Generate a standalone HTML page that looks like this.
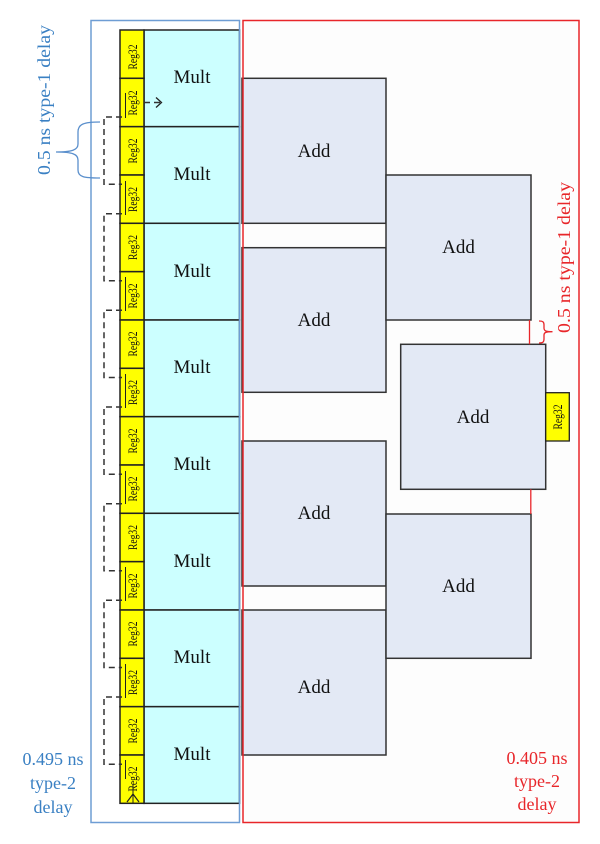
<!DOCTYPE html>
<html><head><meta charset="utf-8"><style>
html,body{margin:0;padding:0;background:#fff;}
svg{display:block;}
text{font-family:"Liberation Serif",serif;}
.r{font-size:12.5px;}
</style></head><body>
<svg width="600" height="844" viewBox="0 0 600 844" xmlns="http://www.w3.org/2000/svg">
<rect x="0" y="0" width="600" height="844" fill="#ffffff"/>
<rect x="243" y="20.5" width="336" height="802" fill="#fdfdfd"/>

<!-- Add boxes -->
<g fill="#e3e9f5" stroke="#333" stroke-width="1.5">
<rect x="242" y="78.3" width="144" height="145"/>
<rect x="242" y="247.7" width="144" height="144.6"/>
<rect x="242" y="441" width="144" height="145"/>
<rect x="242" y="610" width="144" height="145"/>
<rect x="386" y="175" width="145" height="145"/>
<rect x="386" y="514" width="145" height="144.3"/>
<rect x="400.7" y="344.3" width="145" height="145"/>
</g>
<g font-size="19" fill="#111" text-anchor="middle">
<text x="314" y="157">Add</text>
<text x="314" y="326">Add</text>
<text x="314" y="519">Add</text>
<text x="314" y="693">Add</text>
<text x="458.5" y="253">Add</text>
<text x="458.5" y="592">Add</text>
<text x="473" y="423">Add</text>
</g>

<!-- right reg32 -->
<rect x="545.7" y="392.7" width="23.6" height="48.3" fill="#ffff00" stroke="#222" stroke-width="1.3"/>
<text class="r" transform="translate(562,417) rotate(-90)" text-anchor="middle" fill="#111" textLength="25" lengthAdjust="spacingAndGlyphs">Reg32</text>

<!-- red connectors -->
<g stroke="#e8262a" stroke-width="1.3" fill="none">
<line x1="529.5" y1="320" x2="529.5" y2="344.3"/>
<line x1="530.8" y1="489.3" x2="530.8" y2="514"/>
<path d="M539,321 C543,321 544,322 544,325 L544,328 C544,331 546,331.7 552.5,331.7 C546,331.7 544,332.5 544,335 L544,339 C544,342 543,343 539,343"/>
</g>

<!-- red box -->
<rect x="243" y="20.5" width="336" height="802" fill="none" stroke="#e8262a" stroke-width="1.5"/>

<!-- Mult and reg column -->
<g stroke="#222" stroke-width="1.5">
<rect x="144" y="30" width="95.5" height="96.67" fill="#ccffff"/>
<rect x="144" y="126.67" width="95.5" height="96.67" fill="#ccffff"/>
<rect x="144" y="223.33" width="95.5" height="96.67" fill="#ccffff"/>
<rect x="144" y="320" width="95.5" height="96.67" fill="#ccffff"/>
<rect x="144" y="416.67" width="95.5" height="96.67" fill="#ccffff"/>
<rect x="144" y="513.33" width="95.5" height="96.67" fill="#ccffff"/>
<rect x="144" y="610" width="95.5" height="96.67" fill="#ccffff"/>
<rect x="144" y="706.67" width="95.5" height="96.67" fill="#ccffff"/>
</g>
<g stroke="#222" stroke-width="1.5" fill="#ffff00">
<rect x="120" y="30" width="24" height="48.33"/>
<rect x="120" y="78.33" width="24" height="48.33"/>
<rect x="120" y="126.67" width="24" height="48.33"/>
<rect x="120" y="175" width="24" height="48.33"/>
<rect x="120" y="223.33" width="24" height="48.33"/>
<rect x="120" y="271.67" width="24" height="48.33"/>
<rect x="120" y="320" width="24" height="48.33"/>
<rect x="120" y="368.33" width="24" height="48.33"/>
<rect x="120" y="416.67" width="24" height="48.33"/>
<rect x="120" y="465" width="24" height="48.33"/>
<rect x="120" y="513.33" width="24" height="48.33"/>
<rect x="120" y="561.67" width="24" height="48.33"/>
<rect x="120" y="610" width="24" height="48.33"/>
<rect x="120" y="658.33" width="24" height="48.33"/>
<rect x="120" y="706.67" width="24" height="48.33"/>
<rect x="120" y="755" width="24" height="48.33"/>
</g>
<g font-size="19" fill="#111" text-anchor="middle">
<text x="192" y="83">Mult</text>
<text x="192" y="180">Mult</text>
<text x="192" y="277">Mult</text>
<text x="192" y="373">Mult</text>
<text x="192" y="470">Mult</text>
<text x="192" y="567">Mult</text>
<text x="192" y="663">Mult</text>
<text x="192" y="760">Mult</text>
</g>
<g fill="#111" text-anchor="middle">
<text class="r" transform="translate(137,57) rotate(-90)" textLength="25" lengthAdjust="spacingAndGlyphs">Reg32</text>
<text class="r" transform="translate(137,103) rotate(-90)" textLength="25" lengthAdjust="spacingAndGlyphs">Reg32</text>
<text class="r" transform="translate(137,151) rotate(-90)" textLength="25" lengthAdjust="spacingAndGlyphs">Reg32</text>
<text class="r" transform="translate(137,199.5) rotate(-90)" textLength="25" lengthAdjust="spacingAndGlyphs">Reg32</text>
<text class="r" transform="translate(137,247.5) rotate(-90)" textLength="25" lengthAdjust="spacingAndGlyphs">Reg32</text>
<text class="r" transform="translate(137,296) rotate(-90)" textLength="25" lengthAdjust="spacingAndGlyphs">Reg32</text>
<text class="r" transform="translate(137,344) rotate(-90)" textLength="25" lengthAdjust="spacingAndGlyphs">Reg32</text>
<text class="r" transform="translate(137,392.5) rotate(-90)" textLength="25" lengthAdjust="spacingAndGlyphs">Reg32</text>
<text class="r" transform="translate(137,441) rotate(-90)" textLength="25" lengthAdjust="spacingAndGlyphs">Reg32</text>
<text class="r" transform="translate(137,489) rotate(-90)" textLength="25" lengthAdjust="spacingAndGlyphs">Reg32</text>
<text class="r" transform="translate(137,537.5) rotate(-90)" textLength="25" lengthAdjust="spacingAndGlyphs">Reg32</text>
<text class="r" transform="translate(137,586) rotate(-90)" textLength="25" lengthAdjust="spacingAndGlyphs">Reg32</text>
<text class="r" transform="translate(137,634) rotate(-90)" textLength="25" lengthAdjust="spacingAndGlyphs">Reg32</text>
<text class="r" transform="translate(137,682.5) rotate(-90)" textLength="25" lengthAdjust="spacingAndGlyphs">Reg32</text>
<text class="r" transform="translate(137,731) rotate(-90)" textLength="25" lengthAdjust="spacingAndGlyphs">Reg32</text>
<text class="r" transform="translate(137,779) rotate(-90)" textLength="25" lengthAdjust="spacingAndGlyphs">Reg32</text>
</g>

<!-- small internal ticks in lower regs -->
<g stroke="#222" stroke-width="1">
<line x1="125.5" y1="93" x2="125.5" y2="118"/>
<line x1="125.5" y1="181" x2="125.5" y2="200"/>
<line x1="125.5" y1="197" x2="125.5" y2="215"/>
<line x1="125.5" y1="277" x2="125.5" y2="296"/>
<line x1="125.5" y1="294" x2="125.5" y2="311"/>
<line x1="125.5" y1="374" x2="125.5" y2="393"/>
<line x1="125.5" y1="390" x2="125.5" y2="408"/>
<line x1="125.5" y1="471" x2="125.5" y2="490"/>
<line x1="125.5" y1="487" x2="125.5" y2="504"/>
<line x1="125.5" y1="567" x2="125.5" y2="586"/>
<line x1="125.5" y1="584" x2="125.5" y2="601"/>
<line x1="125.5" y1="664" x2="125.5" y2="683"/>
<line x1="125.5" y1="680" x2="125.5" y2="698"/>
<line x1="125.5" y1="760" x2="125.5" y2="779"/>
<line x1="133" y1="784" x2="133" y2="803"/>
</g>
<path d="M127,802 L133,794 L139,802" stroke="#222" stroke-width="1.2" fill="none"/>

<!-- dashed brackets -->
<g stroke="#333" stroke-width="1.5" fill="none" stroke-dasharray="6,4">
<path d="M122,117 H104 V184.2 H122"/>
<path d="M122,213.7 H104 V280.8 H122"/>
<path d="M122,310.3 H104 V377.5 H122"/>
<path d="M122,407 H104 V474.2 H122"/>
<path d="M122,503.7 H104 V570.8 H122"/>
<path d="M122,600.3 H104 V667.5 H122"/>
<path d="M122,697 H104 V764.2 H122"/>
<line x1="144" y1="102.5" x2="160" y2="102.5"/>
</g>
<path d="M156,97.5 L161.5,102.5 L156,107.5" stroke="#222" stroke-width="1.3" fill="none"/>

<!-- blue box -->
<rect x="91" y="20.5" width="148.5" height="802" fill="none" stroke="#6e9dd4" stroke-width="1.5"/>

<!-- blue brace -->
<path d="M100,122 C84,122 78,124 78,132 L78,144 C78,150 72,152 56,152 C72,152 78,154 78,160 L78,170 C78,177 84,178 100,178" stroke="#5a8fcc" stroke-width="1.3" fill="none"/>

<!-- labels -->
<text transform="translate(50,100) rotate(-90)" font-size="18" fill="#3a80c3" text-anchor="middle" textLength="150" lengthAdjust="spacingAndGlyphs">0.5 ns type-1 delay</text>
<text transform="translate(570,257.5) rotate(-90)" font-size="18" fill="#e8262a" text-anchor="middle" textLength="151" lengthAdjust="spacingAndGlyphs">0.5 ns type-1 delay</text>

<g font-size="18" fill="#3a80c3" text-anchor="middle">
<text x="53" y="765">0.495 ns</text>
<text x="53" y="789">type-2</text>
<text x="53" y="813">delay</text>
</g>
<g font-size="18" fill="#e8262a" text-anchor="middle">
<text x="537" y="764">0.405 ns</text>
<text x="537" y="787">type-2</text>
<text x="537" y="810">delay</text>
</g>
</svg>
</body></html>
